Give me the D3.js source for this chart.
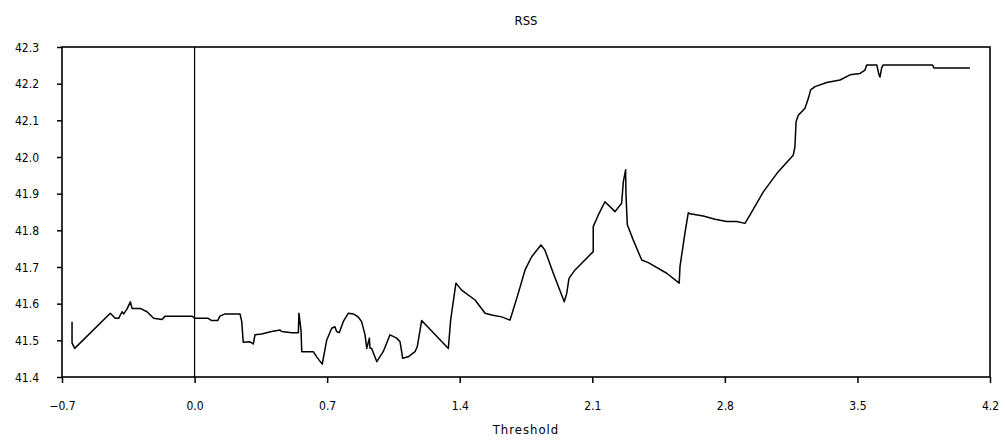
<!DOCTYPE html>
<html>
<head>
<meta charset="utf-8">
<script src="https://cdn.jsdelivr.net/npm/d3@7"></script>
<style>
  body { margin: 0; background: #fff; }
  text { font-family: "DejaVu Sans Condensed", "DejaVu Sans", sans-serif; font-stretch: condensed; fill: #000; }
</style>
</head>
<body>
<div id="chart"></div>
<script>
var svgWidth = 1005;
var svgHeight = 441;

var margin = {
  top: 47,
  right: 15,
  bottom: 64,
  left: 62
};

var width = svgWidth - margin.left - margin.right;
var height = svgHeight - margin.top - margin.bottom;

// threshold values (x) and RSS values (y)
var thresholds = [-0.647, -0.647, -0.633, -0.445, -0.419, -0.401, -0.383, -0.374, -0.357, -0.339,
  -0.330, -0.287, -0.251, -0.216, -0.172, -0.155, -0.014, 0.004, 0.072, 0.090,
  0.122, 0.134, 0.161, 0.240, 0.249, 0.257, 0.293, 0.310, 0.319, 0.354,
  0.407, 0.451, 0.460, 0.513, 0.548, 0.551, 0.562, 0.566, 0.627, 0.645,
  0.674, 0.698, 0.724, 0.741, 0.750, 0.764, 0.785, 0.812, 0.838, 0.865,
  0.882, 0.900, 0.909, 0.923, 0.926, 0.935, 0.962, 0.996, 1.032, 1.067,
  1.085, 1.099, 1.128, 1.164, 1.176, 1.199, 1.340, 1.352, 1.380, 1.410,
  1.481, 1.534, 1.569, 1.622, 1.665, 1.674, 1.709, 1.745, 1.780, 1.829,
  1.850, 1.894, 1.952, 1.965, 1.977, 2.009, 2.105, 2.105, 2.132, 2.167,
  2.220, 2.255, 2.264, 2.276, 2.278, 2.285, 2.316, 2.361, 2.396, 2.493,
  2.559, 2.563, 2.589, 2.607, 2.616, 2.686, 2.748, 2.810, 2.862, 2.906,
  2.933, 3.003, 3.082, 3.161, 3.170, 3.176, 3.188, 3.223, 3.241, 3.253,
  3.276, 3.338, 3.408, 3.461, 3.514, 3.540, 3.549, 3.602, 3.614, 3.619,
  3.628, 3.636, 3.897, 3.904, 4.094];

var rss = [41.551, 41.493, 41.478, 41.574, 41.560, 41.560, 41.578, 41.572, 41.585, 41.605,
  41.587, 41.587, 41.578, 41.560, 41.557, 41.566, 41.566, 41.560, 41.560, 41.554,
  41.554, 41.566, 41.572, 41.572, 41.551, 41.495, 41.496, 41.490, 41.515, 41.517,
  41.524, 41.528, 41.524, 41.521, 41.521, 41.574, 41.528, 41.469, 41.469, 41.455,
  41.435, 41.501, 41.533, 41.537, 41.524, 41.521, 41.551, 41.574, 41.572, 41.563,
  41.551, 41.515, 41.478, 41.506, 41.479, 41.478, 41.442, 41.469, 41.515, 41.506,
  41.496, 41.451, 41.455, 41.469, 41.483, 41.554, 41.478, 41.555, 41.656, 41.637,
  41.610, 41.574, 41.569, 41.564, 41.555, 41.569, 41.628, 41.692, 41.728, 41.760,
  41.746, 41.683, 41.605, 41.628, 41.669, 41.692, 41.742, 41.810, 41.842, 41.878,
  41.851, 41.874, 41.933, 41.965, 41.896, 41.815, 41.774, 41.719, 41.712, 41.683,
  41.656, 41.701, 41.792, 41.848, 41.845, 41.839, 41.830, 41.824, 41.824, 41.819,
  41.842, 41.905, 41.960, 42.005, 42.028, 42.096, 42.114, 42.133, 42.160, 42.183,
  42.192, 42.203, 42.210, 42.224, 42.228, 42.237, 42.251, 42.251, 42.224, 42.218,
  42.243, 42.251, 42.251, 42.243, 42.243];

var xTicks = [-0.7, 0.0, 0.7, 1.4, 2.1, 2.8, 3.5, 4.2];
var yTicks = [41.4, 41.5, 41.6, 41.7, 41.8, 41.9, 42.0, 42.1, 42.2, 42.3];

var svg = d3.select("#chart")
  .append("svg")
  .attr("width", svgWidth)
  .attr("height", svgHeight);

var chartGroup = svg.append("g")
  .attr("transform", `translate(${margin.left}, ${margin.top})`);

var xLinearScale = d3.scaleLinear()
  .domain([-0.7, 4.2])
  .range([0, width]);

var yLinearScale = d3.scaleLinear()
  .domain([41.4, 42.3])
  .range([height, 0]);

// axes
var bottomAxis = d3.axisBottom(xLinearScale)
  .tickValues(xTicks)
  .tickSize(6)
  .tickPadding(18)
  .tickFormat(d3.format(".1f"));

var leftAxis = d3.axisLeft(yLinearScale)
  .tickValues(yTicks)
  .tickSize(5)
  .tickPadding(18)
  .tickFormat(d3.format(".1f"));

var xAxis = chartGroup.append("g")
  .attr("transform", `translate(0, ${height})`)
  .call(bottomAxis);

var yAxis = chartGroup.append("g")
  .call(leftAxis);

[xAxis, yAxis].forEach(function(ax) {
  ax.select(".domain").remove();
  ax.selectAll("line").attr("stroke", "#000").attr("stroke-width", 1.5);
  ax.selectAll("text")
    .attr("font-size", "12px")
    .style("font-family", "'DejaVu Sans Condensed', 'DejaVu Sans', sans-serif");
});
yAxis.selectAll("text").attr("dy", "0.35em");

// plot frame
chartGroup.append("rect")
  .attr("x", 0)
  .attr("y", 0)
  .attr("width", width)
  .attr("height", height)
  .attr("fill", "none")
  .attr("stroke", "#000")
  .attr("stroke-width", 1.6);

// vertical line at zero
chartGroup.append("line")
  .attr("x1", xLinearScale(0))
  .attr("x2", xLinearScale(0))
  .attr("y1", 0)
  .attr("y2", height)
  .attr("stroke", "#000")
  .attr("stroke-width", 1.2);

// RSS line
var data = thresholds.map(function(t, i) { return {x: t, y: rss[i]}; });

var line = d3.line()
  .x(d => xLinearScale(d.x))
  .y(d => yLinearScale(d.y));

chartGroup.append("path")
  .datum(data)
  .attr("d", line)
  .attr("fill", "none")
  .attr("stroke", "#000")
  .attr("stroke-width", 1.5)
  .attr("stroke-linejoin", "round");

// title
svg.append("text")
  .attr("x", margin.left + width / 2)
  .attr("y", 25)
  .attr("text-anchor", "middle")
  .attr("font-size", "13px")
  .text("RSS");

// x axis label
svg.append("text")
  .attr("x", margin.left + width / 2)
  .attr("y", 434)
  .attr("text-anchor", "middle")
  .attr("font-size", "13px")
  .attr("letter-spacing", "1px")
  .text("Threshold");
</script>
</body>
</html>
